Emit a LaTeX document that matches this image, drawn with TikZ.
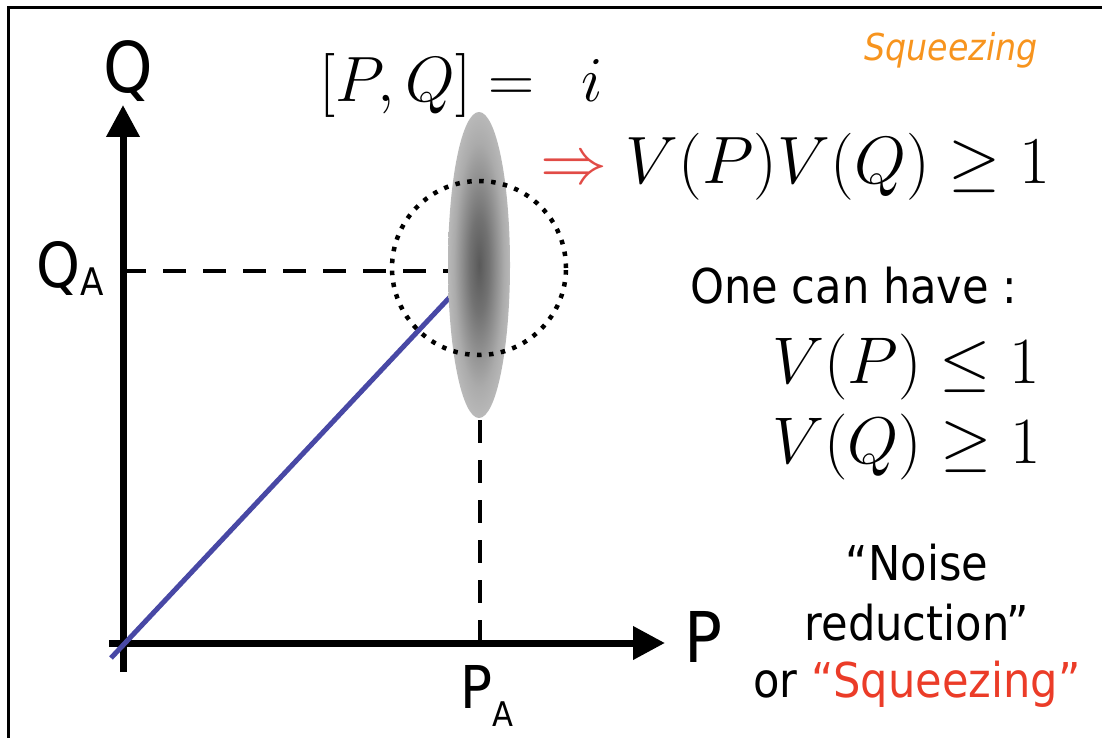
\RequirePackage{fix-cm}
\documentclass[tikz,border=0pt]{standalone}
\usepackage[no-math]{fontspec}
\setmainfont{DejaVu Sans Condensed}
\usetikzlibrary{arrows.meta}
\definecolor{sqzblue}{RGB}{72,72,165}
\definecolor{sqzred}{RGB}{235,60,40}
\definecolor{sqzorange}{RGB}{247,148,30}
\definecolor{sqzarrow}{RGB}{225,75,70}
\pgfdeclareradialshading{sqzblob}{\pgfpoint{0bp}{0bp}}{color(0bp)=(black!65); color(8bp)=(black!55); color(20bp)=(black!33); color(30bp)=(black!22); color(50bp)=(black!20)}
\begin{document}
\begin{tikzpicture}[x=1pt, y=-1pt,
  sqzaxis/.style = {line width=7pt, -{Triangle[length=32pt,width=32pt]}},
  sqzdash/.style = {line width=4pt, dash pattern=on 23pt off 17pt},
  sqzring/.style = {line width=4.5pt, dash pattern=on 4.5pt off 7.5pt},
  sqztxt/.style = {inner sep=0pt, anchor=base west},
  sqzmid/.style = {inner sep=0pt, anchor=base, font=\fontsize{48}{58}\selectfont}
]
  \useasboundingbox (0,0) rectangle (1102,738);
  % frame
  \draw[line width=3pt] (8.5,7.5) rectangle (1140,770);
  % axes
  \coordinate (qtip) at (123,105);
  \coordinate (qend) at (123,672);
  \coordinate (pstart) at (109,643);
  \coordinate (ptip) at (665,643);
  \draw[sqzaxis] (qend) -- (qtip);
  \draw[sqzaxis] (pstart) -- (ptip);
  \node[inner sep=0pt, anchor=base, font=\fontsize{70}{70}\selectfont] (qlbl) at (128,93) {Q};
  \node[sqztxt, font=\fontsize{70}{70}\selectfont] (plbl) at (684,662) {P};
  % projections
  \coordinate (qaleft) at (123,271);
  \coordinate (qaright) at (449,271);
  \coordinate (patop) at (480,420);
  \coordinate (pabot) at (480,640);
  \draw[sqzdash] (qaleft) -- (qaright);
  \draw[sqzdash] (patop) -- (pabot);
  \node[sqztxt, font=\fontsize{62}{62}\selectfont] (qa) at (36,287)
    {Q\raisebox{-8pt}{\fontsize{38}{38}\selectfont A}};
  \node[sqztxt, font=\fontsize{59}{59}\selectfont] (pa) at (460,708)
    {P\raisebox{-18pt}{\fontsize{34}{34}\selectfont A}};
  % state
  \coordinate (orig) at (111,658);
  \coordinate (blob) at (450,297);
  \draw[line width=5pt, sqzblue] (orig) -- (blob);
  \shade[shading=sqzblob] (479,265) ellipse [x radius=31pt, y radius=153pt];
  \draw[sqzring] (479,268) circle [radius=87pt];
  % relations
  \node[sqztxt, font=\fontsize{64}{64}\selectfont] (comm) at (319,102) {$[P,Q] = \;\, i$};
  \node[sqztxt, font=\fontsize{67}{67}\selectfont] (unc) at (540,183)
    {$\mathrel{\textcolor{sqzarrow}{\Rightarrow}} V(P)V(Q) \geq 1$};
  \node[sqztxt, font=\fontsize{48}{48}\selectfont] (can) at (690,303) {One can have :};
  \node[sqztxt, font=\fontsize{66}{66}\selectfont] (vp) at (772,383) {$V(P) \leq 1$};
  \node[sqztxt, font=\fontsize{66}{66}\selectfont] (vq) at (772,463) {$V(Q) \geq 1$};
  \node[sqztxt, font=\fontsize{37}{37}\selectfont\itshape, text=sqzorange] (title) at (864,61) {Squeezing};
  % comment
  \node[sqzmid] (noise1) at (917,580) {“Noise};
  \node[sqzmid] (noise2) at (917,640) {reduction”};
  \node[sqzmid] (noise3) at (917,697) {or \textcolor{sqzred}{“Squeezing”}};
\end{tikzpicture}
\end{document}
